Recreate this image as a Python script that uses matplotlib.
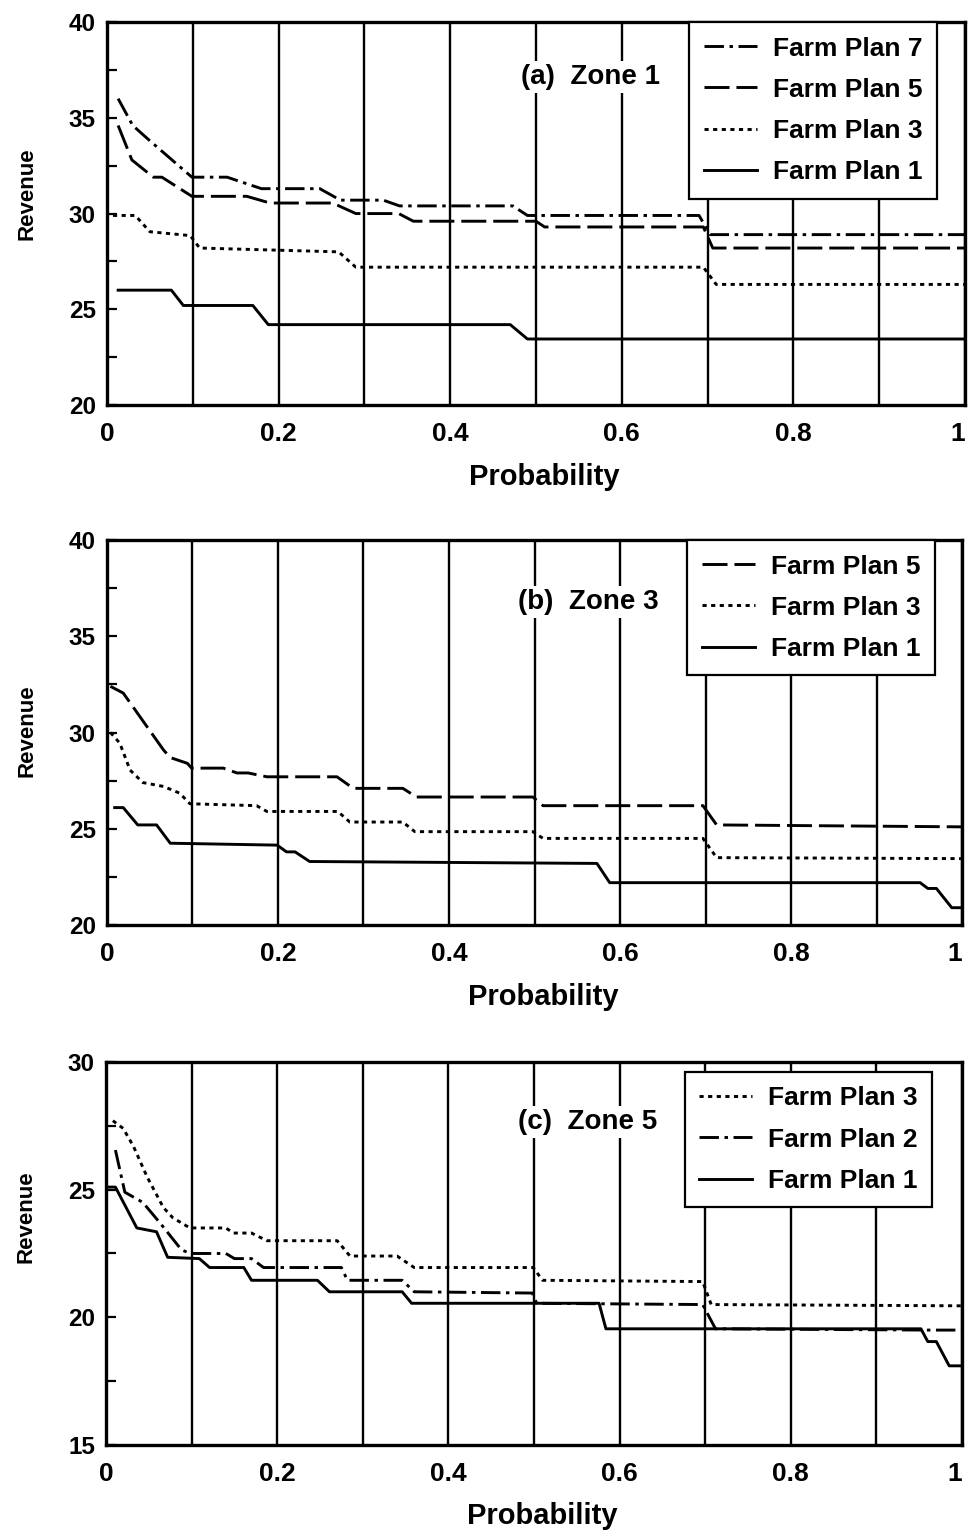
import matplotlib
matplotlib.use('Agg')
import matplotlib.pyplot as plt
from matplotlib.ticker import MultipleLocator, FixedLocator
import numpy as np

# ---- data (probability, revenue) ----
# (a) Zone 1
a_p7_x = [0.013, 0.030, 0.040, 0.050, 0.099, 0.140, 0.180, 0.248, 0.272, 0.322, 0.341, 0.473, 0.490, 0.690, 0.703, 1.0]
a_p7_y = [36.0, 34.6, 34.2, 33.8, 31.9, 31.9, 31.3, 31.3, 30.7, 30.7, 30.4, 30.4, 29.9, 29.9, 28.9, 28.9]
a_p5_x = [0.013, 0.029, 0.054, 0.064, 0.099, 0.163, 0.190, 0.263, 0.290, 0.340, 0.357, 0.500, 0.510, 0.695, 0.706, 1.0]
a_p5_y = [34.6, 32.8, 31.9, 31.9, 30.9, 30.9, 30.55, 30.55, 30.0, 30.0, 29.6, 29.6, 29.3, 29.3, 28.2, 28.2]
a_p3_x = [0.007, 0.033, 0.050, 0.097, 0.108, 0.270, 0.290, 0.695, 0.710, 1.0]
a_p3_y = [29.9, 29.9, 29.05, 28.85, 28.2, 28.0, 27.2, 27.2, 26.3, 26.3]
a_p1_x = [0.013, 0.075, 0.089, 0.170, 0.188, 0.470, 0.490, 1.0]
a_p1_y = [26.0, 26.0, 25.2, 25.2, 24.2, 24.2, 23.45, 23.45]

# (b) Zone 3
b_p5_x = [0.004, 0.019, 0.066, 0.074, 0.094, 0.099, 0.136, 0.152, 0.165, 0.187, 0.269, 0.288, 0.346, 0.362, 0.498, 0.510, 0.697, 0.713, 1.0]
b_p5_y = [32.4, 32.05, 29.1, 28.7, 28.4, 28.15, 28.15, 27.9, 27.9, 27.7, 27.7, 27.1, 27.1, 26.65, 26.65, 26.2, 26.2, 25.2, 25.1]
b_p3_x = [0.004, 0.015, 0.027, 0.042, 0.066, 0.085, 0.097, 0.175, 0.187, 0.270, 0.284, 0.346, 0.360, 0.498, 0.510, 0.697, 0.713, 1.0]
b_p3_y = [30.0, 29.45, 28.05, 27.4, 27.2, 26.85, 26.3, 26.2, 25.9, 25.9, 25.35, 25.35, 24.85, 24.85, 24.5, 24.5, 23.5, 23.45]
b_p1_x = [0.009, 0.019, 0.036, 0.058, 0.074, 0.199, 0.210, 0.220, 0.237, 0.573, 0.588, 0.951, 0.960, 0.970, 0.988, 1.0]
b_p1_y = [26.1, 26.1, 25.2, 25.2, 24.25, 24.15, 23.8, 23.8, 23.3, 23.2, 22.2, 22.2, 21.9, 21.9, 20.9, 20.9]

# (c) Zone 5
c_p3_x = [0.008, 0.020, 0.032, 0.048, 0.067, 0.078, 0.098, 0.140, 0.149, 0.170, 0.188, 0.270, 0.285, 0.340, 0.360, 0.499, 0.510, 0.697, 0.707, 1.0]
c_p3_y = [27.7, 27.4, 26.7, 25.5, 24.3, 23.9, 23.5, 23.5, 23.3, 23.3, 23.0, 23.0, 22.4, 22.4, 21.95, 21.95, 21.45, 21.4, 20.5, 20.45]
c_p2_x = [0.011, 0.022, 0.043, 0.063, 0.088, 0.098, 0.140, 0.150, 0.170, 0.184, 0.275, 0.282, 0.346, 0.360, 0.498, 0.503, 0.697, 0.712, 0.960, 1.0]
c_p2_y = [26.55, 24.9, 24.5, 23.7, 22.65, 22.5, 22.5, 22.3, 22.3, 21.95, 21.95, 21.45, 21.45, 21.0, 20.95, 20.55, 20.5, 19.55, 19.5, 19.5]
c_p1_x = [0.0, 0.011, 0.036, 0.059, 0.072, 0.109, 0.121, 0.161, 0.170, 0.247, 0.261, 0.346, 0.357, 0.576, 0.584, 0.952, 0.960, 0.970, 0.985, 1.0]
c_p1_y = [25.1, 25.1, 23.5, 23.35, 22.35, 22.3, 21.95, 21.95, 21.45, 21.45, 21.0, 21.0, 20.55, 20.55, 19.55, 19.55, 19.05, 19.05, 18.1, 18.1]

xtick_vals = [0, 0.2, 0.4, 0.6, 0.8, 1]
xtick_labels = ['0', '0.2', '0.4', '0.6', '0.8', '1']

plt.rcParams['font.family'] = ['Liberation Sans', 'DejaVu Sans']
plt.rcParams['font.weight'] = 'bold'
plt.rcParams['lines.scale_dashes'] = False

DASHDOT = (14, 4, 2.5, 4)
DASHED = (18, 5)
DOTTED = (3, 3.2)


def drawLine(ax, x, y, label, dashes):
    if dashes is None:
        ax.plot(x, y, color='k', lw=2.1, label=label)
    else:
        ax.plot(x, y, color='k', lw=2.1, label=label, dashes=dashes)


def setupAxes(ax, ylim, title, title_y, ylab_y, leg_anchor):
    ax.set_xlim(0, 1)
    ax.set_ylim(*ylim)
    ax.set_xticks(xtick_vals)
    ax.set_xticklabels(xtick_labels)
    # last label sits right at the figure edge, keep it inside
    ax.get_xticklabels()[-1].set_ha('right')
    ax.xaxis.set_minor_locator(FixedLocator(np.arange(1, 10) / 10))
    ax.grid(which='both', axis='x', color='k', lw=1.7)
    ax.tick_params(axis='x', which='both', length=0, labelsize=19, pad=12)
    ax.yaxis.set_major_locator(MultipleLocator(5))
    ax.yaxis.set_minor_locator(MultipleLocator(2.5))
    ax.tick_params(axis='y', which='both', direction='in', length=7, width=1.6,
                   labelsize=17.5, pad=8)
    for s in ax.spines.values():
        s.set_linewidth(2.4)

    ax.set_xlabel('Probability', fontsize=21, fontweight='bold')
    ax.xaxis.set_label_coords(0.51, -0.15)
    ax.xaxis.label.set_va('top')
    ax.set_ylabel('Revenue', fontsize=16, fontweight='bold')
    ax.yaxis.set_label_coords(-0.093, ylab_y)
    ax.yaxis.label.set_va('center')

    ax.text(0.563, title_y, title, transform=ax.transAxes, fontsize=20,
            fontweight='bold', ha='center', va='center', zorder=4,
            bbox=dict(facecolor='white', edgecolor='none', pad=2))

    leg = ax.legend(loc='upper right', bbox_to_anchor=leg_anchor, borderaxespad=0,
                    fontsize=19, fancybox=False, framealpha=1, edgecolor='k',
                    handlelength=2.0, handletextpad=0.6, labelspacing=0.65,
                    borderpad=0.55)
    leg.get_frame().set_linewidth(1.6)
    leg.set_zorder(5)


def main():
    fig = plt.figure(figsize=(9.69, 15.32), dpi=100)

    ax = fig.add_axes([0.1104, 0.7356, 0.8855, 0.25])
    drawLine(ax, a_p7_x, a_p7_y, 'Farm Plan 7', DASHDOT)
    drawLine(ax, a_p5_x, a_p5_y, 'Farm Plan 5', DASHED)
    drawLine(ax, a_p3_x, a_p3_y, 'Farm Plan 3', DOTTED)
    drawLine(ax, a_p1_x, a_p1_y, 'Farm Plan 1', None)
    setupAxes(ax, (20, 40), '(a)  Zone 1', 0.856, 0.553, (0.967, 1.0))

    ax = fig.add_axes([0.1104, 0.3962, 0.8824, 0.2513])
    drawLine(ax, b_p5_x, b_p5_y, 'Farm Plan 5', DASHED)
    drawLine(ax, b_p3_x, b_p3_y, 'Farm Plan 3', DOTTED)
    drawLine(ax, b_p1_x, b_p1_y, 'Farm Plan 1', None)
    setupAxes(ax, (20, 40), '(b)  Zone 3', 0.839, 0.506, (0.968, 1.0))

    ax = fig.add_axes([0.1094, 0.0568, 0.8834, 0.25])
    drawLine(ax, c_p3_x, c_p3_y, 'Farm Plan 3', DOTTED)
    drawLine(ax, c_p2_x, c_p2_y, 'Farm Plan 2', DASHDOT)
    drawLine(ax, c_p1_x, c_p1_y, 'Farm Plan 1', None)
    setupAxes(ax, (15, 30), '(c)  Zone 5', 0.843, 0.595, (0.965, 0.974))

    plt.savefig('out.png', dpi=100)


if __name__ == '__main__':
    main()
